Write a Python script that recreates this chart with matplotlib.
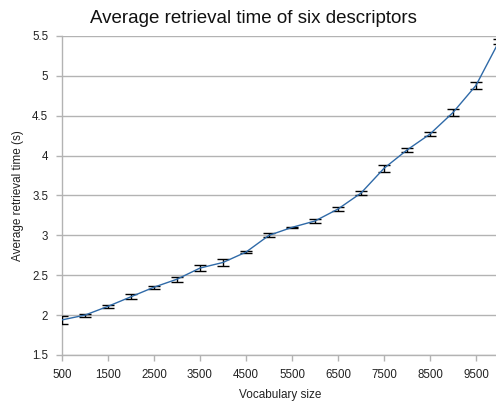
import matplotlib
matplotlib.use("Agg")
import matplotlib.pyplot as plt

vocab_size = [500, 1000, 1500, 2000, 2500, 3000, 3500, 4000, 4500, 5000,
              5500, 6000, 6500, 7000, 7500, 8000, 8500, 9000, 9500, 10000]
avg_time = [1.94, 2.00, 2.11, 2.23, 2.35, 2.45, 2.59, 2.66, 2.79, 3.00,
            3.10, 3.18, 3.33, 3.53, 3.84, 4.07, 4.27, 4.54, 4.88, 5.43]
time_err = [0.055, 0.02, 0.02, 0.03, 0.02, 0.03, 0.04, 0.04, 0.015, 0.025,
            0.01, 0.02, 0.02, 0.03, 0.04, 0.03, 0.03, 0.045, 0.04, 0.03]
x_ticks = [500, 1500, 2500, 3500, 4500, 5500, 6500, 7500, 8500, 9500]
y_ticks = [1.5, 2, 2.5, 3, 3.5, 4, 4.5, 5, 5.5]

plt.rcParams["font.family"] = ["Liberation Sans", "DejaVu Sans"]

fig = plt.figure(figsize=(4.96, 4.05), dpi=100)
ax = fig.add_axes([0.125, 0.1235, 0.881, 0.7877])

grey = "#b3b3b3"

ax.errorbar(
    vocab_size,
    avg_time,
    yerr=time_err,
    color="#2f6aa8",
    linewidth=1,
    ecolor="black",
    elinewidth=1,
    capsize=4.3,
    capthick=1,
    zorder=3,
)

ax.set_xlim(500, 10000)
ax.set_ylim(1.5, 5.5)
ax.set_xticks(x_ticks)
ax.set_xticklabels([str(t) for t in x_ticks])
ax.set_yticks(y_ticks)
ax.set_yticklabels(["1.5", "2", "2.5", "3", "3.5", "4", "4.5", "5", "5.5"])

ax.grid(axis="y", color=grey, linewidth=1)
ax.set_axisbelow(True)

for side in ["top", "right"]:
    ax.spines[side].set_visible(False)
for side in ["left", "bottom"]:
    ax.spines[side].set_color(grey)
    ax.spines[side].set_linewidth(1)

ax.tick_params(axis="both", colors=grey, length=4, width=1, labelsize=8.3,
               labelcolor="#222222", pad=6)

# title is centred on the whole image, not on the plot area
fig.text(0.51, 0.975, "Average retrieval time of six descriptors",
         fontsize=13.5, color="#111111", ha="center", va="top")
ax.set_xlabel("Vocabulary size", fontsize=8.5, color="#222222", labelpad=6)
ax.set_ylabel("Average retrieval time (s)", fontsize=8.5, color="#222222",
              labelpad=6)

fig.savefig("out.png", dpi=100)
plt.close(fig)
